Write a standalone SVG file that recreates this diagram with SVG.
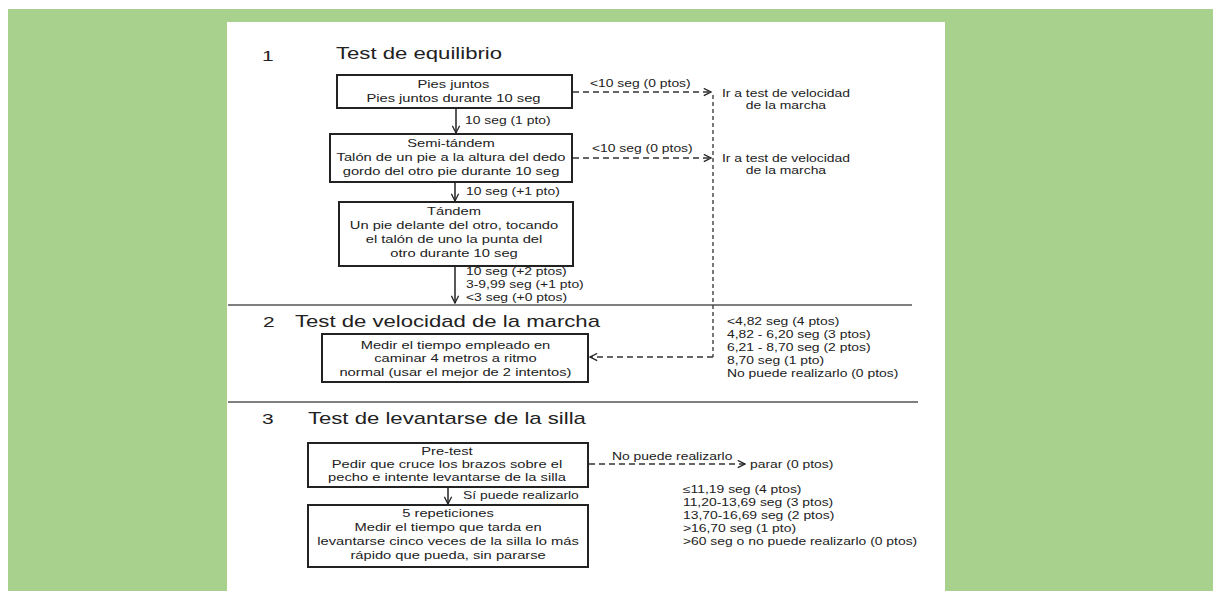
<svg xmlns="http://www.w3.org/2000/svg" width="1213" height="591" viewBox="0 0 1213 591">
<defs>
<marker id="arr" viewBox="0 0 10 10" refX="9" refY="5" markerWidth="9" markerHeight="9" markerUnits="userSpaceOnUse" orient="auto">
<path d="M1,1 L9,5 L1,9" fill="none" stroke="#222" stroke-width="1.4"/>
</marker>
</defs>
<style>
.box{fill:#fff;stroke:#222;stroke-width:2}
.t{font-family:"Liberation Sans",Arial,sans-serif;fill:#222}
.bt{font-size:10.9px;text-anchor:middle}
.lb{font-size:10.3px}
.ti{font-size:16.4px}
.num{font-size:15.5px}
.solid{stroke:#222;stroke-width:1.5;fill:none}
.dash{stroke:#333;stroke-width:1.3;fill:none;stroke-dasharray:6 4}
.vdash{stroke:#333;stroke-width:1.3;fill:none;stroke-dasharray:4 3}
.sep{stroke:#555;stroke-width:1.5}
</style>
<rect x="0" y="0" width="1213" height="591" fill="#fff"/>
<rect x="8" y="9" width="1205" height="582" fill="#a9d18e"/>
<rect x="227" y="22" width="718" height="569" fill="#fff"/>
<g id="separators">
<line class="sep" x1="228" y1="305" x2="912" y2="305"/>
<line class="sep" x1="228" y1="402" x2="918" y2="402"/>
</g>
<g id="connectors">
<line class="solid" x1="456" y1="109" x2="456" y2="133" marker-end="url(#arr)"/>
<line class="solid" x1="455" y1="183" x2="455" y2="201" marker-end="url(#arr)"/>
<line class="solid" x1="455" y1="267" x2="455" y2="303" marker-end="url(#arr)"/>
<line class="solid" x1="448" y1="488" x2="448" y2="504" marker-end="url(#arr)"/>
<line class="dash" x1="573" y1="92" x2="711" y2="92" marker-end="url(#arr)"/>
<line class="dash" x1="573" y1="158" x2="711" y2="158" marker-end="url(#arr)"/>
<line class="vdash" x1="713" y1="95" x2="713" y2="357"/>
<line class="dash" x1="713" y1="357" x2="590" y2="357" marker-end="url(#arr)"/>
<line class="dash" x1="589" y1="464" x2="745" y2="464" marker-end="url(#arr)"/>
</g>
<g id="n1"><rect class="box" x="337" y="75" width="235" height="33"/></g>
<g id="n2"><rect class="box" x="330" y="134" width="242" height="48"/></g>
<g id="n3"><rect class="box" x="339" y="202" width="234" height="64"/></g>
<g id="n4"><rect class="box" x="322" y="334" width="266" height="48"/></g>
<g id="n5"><rect class="box" x="308" y="443" width="280" height="44"/></g>
<g id="n6"><rect class="box" x="308" y="505" width="280" height="62"/></g>
<g id="texts" class="t" transform="scale(1.35 1)">
<text class="num" x="194.1" y="61">1</text>
<text class="ti" x="248.9" y="59">Test de equilibrio</text>
<text class="num" x="194.8" y="327">2</text>
<text class="ti" x="218.5" y="327">Test de velocidad de la marcha</text>
<text class="num" x="194.1" y="424">3</text>
<text class="ti" x="228.1" y="424">Test de levantarse de la silla</text>
<text class="bt" x="335.9" y="88">Pies juntos</text>
<text class="bt" x="335.9" y="102">Pies juntos durante 10 seg</text>
<text class="bt" x="334.1" y="147">Semi-tándem</text>
<text class="bt" x="334.1" y="161">Talón de un pie a la altura del dedo</text>
<text class="bt" x="334.1" y="175">gordo del otro pie durante 10 seg</text>
<text class="bt" x="336.3" y="215">Tándem</text>
<text class="bt" x="336.3" y="229">Un pie delante del otro, tocando</text>
<text class="bt" x="336.3" y="243">el talón de uno la punta del</text>
<text class="bt" x="336.3" y="257">otro durante 10 seg</text>
<text class="bt" x="337.4" y="349">Medir el tiempo empleado en</text>
<text class="bt" x="337.4" y="362">caminar 4 metros a ritmo</text>
<text class="bt" x="337.4" y="376">normal (usar el mejor de 2 intentos)</text>
<text class="bt" x="331.1" y="455">Pre-test</text>
<text class="bt" x="331.1" y="468">Pedir que cruce los brazos sobre el</text>
<text class="bt" x="331.1" y="481">pecho e intente levantarse de la silla</text>
<text class="bt" x="331.9" y="517">5 repeticiones</text>
<text class="bt" x="331.9" y="531">Medir el tiempo que tarda en</text>
<text class="bt" x="331.9" y="545">levantarse cinco veces de la silla lo más</text>
<text class="bt" x="331.9" y="559">rápido que pueda, sin pararse</text>
<text class="lb" x="344.4" y="124">10 seg (1 pto)</text>
<text class="lb" x="345.2" y="195">10 seg (+1 pto)</text>
<text class="lb" x="345.2" y="275">10 seg (+2 ptos)</text>
<text class="lb" x="345.2" y="288">3-9,99 seg (+1 pto)</text>
<text class="lb" x="345.2" y="301">&lt;3 seg (+0 ptos)</text>
<text class="lb" x="437.0" y="87">&lt;10 seg (0 ptos)</text>
<text class="lb" x="438.5" y="152">&lt;10 seg (0 ptos)</text>
<text class="lb" x="582.2" y="97" text-anchor="middle">Ir a test de velocidad</text>
<text class="lb" x="582.2" y="109" text-anchor="middle">de la marcha</text>
<text class="lb" x="582.2" y="162" text-anchor="middle">Ir a test de velocidad</text>
<text class="lb" x="582.2" y="174" text-anchor="middle">de la marcha</text>
<text class="lb" x="538.5" y="325">&lt;4,82 seg (4 ptos)</text>
<text class="lb" x="538.5" y="338">4,82 - 6,20 seg (3 ptos)</text>
<text class="lb" x="538.5" y="351">6,21 - 8,70 seg (2 ptos)</text>
<text class="lb" x="538.5" y="364">8,70 seg (1 pto)</text>
<text class="lb" x="538.5" y="377">No puede realizarlo (0 ptos)</text>
<text class="lb" x="343.0" y="499">Sí puede realizarlo</text>
<text class="lb" x="453.3" y="460">No puede realizarlo</text>
<text class="lb" x="555.6" y="468">parar (0 ptos)</text>
<text class="lb" x="505.9" y="493">≤11,19 seg (4 ptos)</text>
<text class="lb" x="505.9" y="506">11,20-13,69 seg (3 ptos)</text>
<text class="lb" x="505.9" y="519">13,70-16,69 seg (2 ptos)</text>
<text class="lb" x="505.9" y="532">&gt;16,70 seg (1 pto)</text>
<text class="lb" x="505.9" y="545">&gt;60 seg o no puede realizarlo (0 ptos)</text>
</g>
</svg>
